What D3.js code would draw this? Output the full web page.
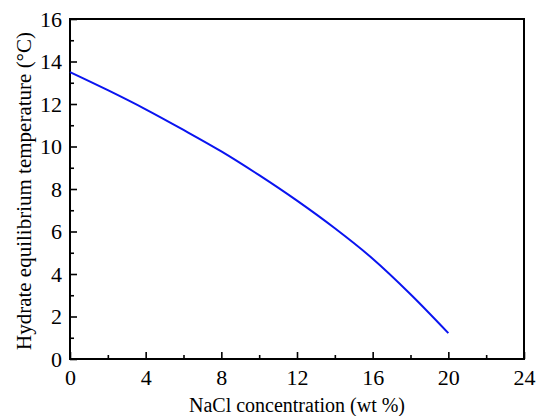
<!DOCTYPE html>
<html>
<head>
<meta charset="utf-8">
<script src="https://cdn.jsdelivr.net/npm/d3@7"></script>
<style>
	body { margin: 0; background: #fff; }
	svg text { font-family: "Times New Roman", "Liberation Serif", Tinos, "DejaVu Serif", serif; }
</style>
</head>
<body>
<div id="chart"></div>
<script>
// NaCl concentration (wt %)
var concentration = [0, 2, 4, 6, 8, 10, 12, 14, 16, 18, 20];
// hydrate equilibrium temperature (degC)
var temperature = [13.5, 12.65, 11.75, 10.78, 9.77, 8.65, 7.45, 6.15, 4.72, 3.05, 1.22];

var xTicks = [0, 4, 8, 12, 16, 20, 24];
var xMinor = [2, 6, 10, 14, 18, 22];
var yTicks = [0, 2, 4, 6, 8, 10, 12, 14, 16];
var yMinor = [1, 3, 5, 7, 9, 11, 13, 15];

var width = 536, height = 416;
var margin = {top: 19, right: 12, bottom: 57, left: 70};
var innerW = width - margin.left - margin.right;
var innerH = height - margin.top - margin.bottom;

var svg = d3.select("#chart").append("svg")
	.attr("width", width)
	.attr("height", height);

var g = svg.append("g")
	.attr("transform", "translate(" + margin.left + "," + margin.top + ")");

var x = d3.scaleLinear().domain([0, 24]).range([0, innerW]);
var y = d3.scaleLinear().domain([0, 16]).range([innerH, 0]);

// minor ticks first, then major ticks with labels
g.append("g")
	.attr("transform", "translate(0," + innerH + ")")
	.call(d3.axisBottom(x).tickValues(xMinor).tickSize(-4).tickFormat(""));
g.append("g")
	.call(d3.axisLeft(y).tickValues(yMinor).tickSize(-4).tickFormat(""));

g.append("g")
	.attr("transform", "translate(0," + innerH + ")")
	.call(d3.axisBottom(x).tickValues(xTicks).tickSize(-7).tickPadding(10));
g.append("g")
	.call(d3.axisLeft(y).tickValues(yTicks).tickSize(-7).tickPadding(8));

g.selectAll(".domain").remove();
g.selectAll("g").attr("font-family", null).attr("font-size", null);
g.selectAll(".tick line").attr("stroke", "#000").attr("stroke-width", 1.6);
g.selectAll(".tick text")
	.attr("fill", "#000")
	.style("font-size", "22px");

// frame
g.append("rect")
	.attr("x", 0)
	.attr("y", 0)
	.attr("width", innerW)
	.attr("height", innerH)
	.attr("fill", "none")
	.attr("stroke", "#000")
	.attr("stroke-width", 2);

// curve
var line = d3.line()
	.x(function(d, i) { return x(concentration[i]); })
	.y(function(d) { return y(d); })
	.curve(d3.curveCatmullRom);

g.append("path")
	.datum(temperature)
	.attr("d", line)
	.attr("fill", "none")
	.attr("stroke", "#0a14f0")
	.attr("stroke-width", 2);

// axis titles
svg.append("text")
	.attr("x", margin.left + innerW / 2)
	.attr("y", 412)
	.attr("text-anchor", "middle")
	.style("font-size", "20px")
	.text("NaCl concentration (wt %)");

svg.append("text")
	.attr("transform", "translate(31," + (margin.top + innerH / 2 + 2) + ") rotate(-90)")
	.attr("text-anchor", "middle")
	.style("font-size", "21px")
	.text("Hydrate equilibrium temperature (°C)");
</script>
</body>
</html>
